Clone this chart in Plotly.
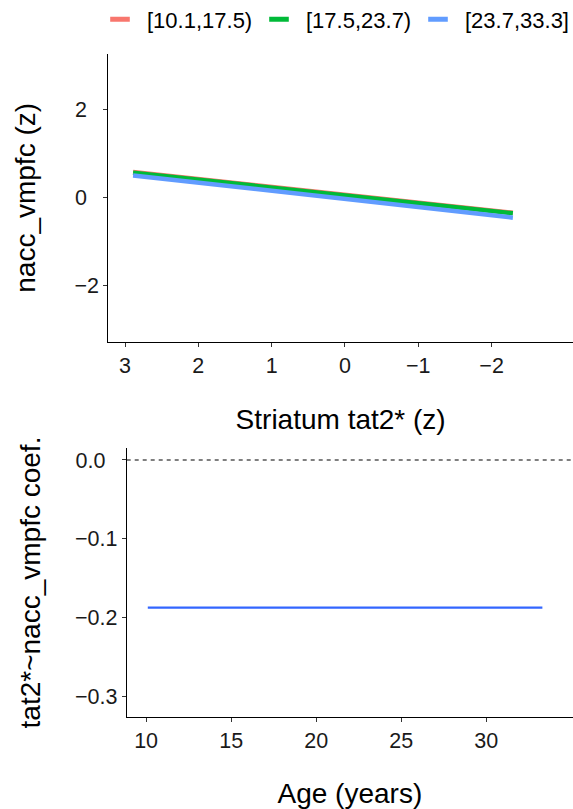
import plotly.graph_objects as go

# ---- data ----
age_groups = ["[10.1,17.5)", "[17.5,23.7)", "[23.7,33.3]"]
group_colors = ["#F8766D", "#00BA38", "#619CFF"]
tat2_x = [2.89, -2.29]                      # Striatum tat2* (z) endpoints
nacc_pred = [[0.58, -0.35], [0.56, -0.36], [0.50, -0.46]]

age_x = [10.1, 33.3]
coef_y = [-0.187, -0.187]

top_xticks = [3, 2, 1, 0, -1, -2]
top_yticks = [-2, 0, 2]
bot_xticks = [10, 15, 20, 25, 30]
bot_yticks = [0.0, -0.1, -0.2, -0.3]

W, H = 573, 809
FONT = "Liberation Sans, Arial, sans-serif"
FIG_SP = "\u2007"  # pads non-negative y labels so they line up on the left like the original


def fmt_y(v, spec):
    s = format(v, spec)
    if s.startswith("-"):
        return "\u2212" + s[1:]
    return s + FIG_SP


fig = go.Figure()

for name, col, yy in zip(age_groups, group_colors, nacc_pred):
    fig.add_trace(go.Scatter(x=tat2_x, y=yy, mode="lines",
                             line=dict(color=col, width=4.5),
                             showlegend=False, xaxis="x", yaxis="y",
                             hoverinfo="skip"))
for name, col in zip(age_groups, group_colors):
    fig.add_trace(go.Scatter(x=[None], y=[None], mode="markers", name=name,
                             marker=dict(symbol="line-ew", size=14,
                                         line=dict(color=col, width=5)),
                             xaxis="x", yaxis="y"))

fig.add_trace(go.Scatter(x=age_x, y=coef_y, mode="lines",
                         line=dict(color="#3366FF", width=2.2),
                         showlegend=False, xaxis="x2", yaxis="y2"))

fig.add_shape(type="line", xref="x2 domain", yref="y2", x0=0, x1=1, y0=0, y1=0,
              line=dict(color="black", width=1.1, dash="4px,4px"))

axis_common = dict(showline=True, linecolor="black", linewidth=1.1,
                   ticks="outside", ticklen=4, tickcolor="#333", tickwidth=1.1,
                   showgrid=False, zeroline=False, automargin=False,
                   tickfont=dict(size=21.5, color="#1a1a1a", family=FONT),
                   title_font=dict(size=28, color="black", family=FONT))

fig.update_layout(
    width=W, height=H,
    margin=dict(l=0, r=0, t=0, b=0, autoexpand=False),
    paper_bgcolor="white", plot_bgcolor="white",
    font=dict(family=FONT, color="black"),
    showlegend=True,
    legend=dict(orientation="h", xref="paper", yref="paper",
                x=93 / W, xanchor="left", y=1 - 19.5 / H, yanchor="middle",
                font=dict(size=22, family=FONT), entrywidth=100, itemwidth=44,
                itemsizing="trace", bgcolor="rgba(0,0,0,0)"),
    xaxis=dict(domain=[108.3 / W, 1], anchor="y", range=[3.228, -3.11],
               tickvals=top_xticks, ticktext=[str(v).replace("-", "\u2212") for v in top_xticks],
               title=dict(text="Striatum tat2* (z)", standoff=32), **axis_common),
    yaxis=dict(domain=[1 - 341.7 / H, 1 - 54 / H], anchor="x", range=[-3.28, 3.26],
               tickvals=top_yticks, ticktext=[fmt_y(v, "d") for v in top_yticks],
               title=dict(text="nacc_vmpfc (z)", standoff=30), **axis_common),
    xaxis2=dict(domain=[126.7 / W, 1], anchor="y2", range=[8.86, 35.1],
                tickvals=bot_xticks,
                title=dict(text="Age (years)", standoff=31), **axis_common),
    yaxis2=dict(domain=[1 - 716.7 / H, 1 - 448.3 / H], anchor="x2", range=[-0.3253, 0.0148],
                tickvals=bot_yticks, ticktext=[fmt_y(v, ".1f") for v in bot_yticks],
                title=dict(text="tat2*~nacc_vmpfc coef.", standoff=26), **axis_common),
)

fig.write_html("out.html")
